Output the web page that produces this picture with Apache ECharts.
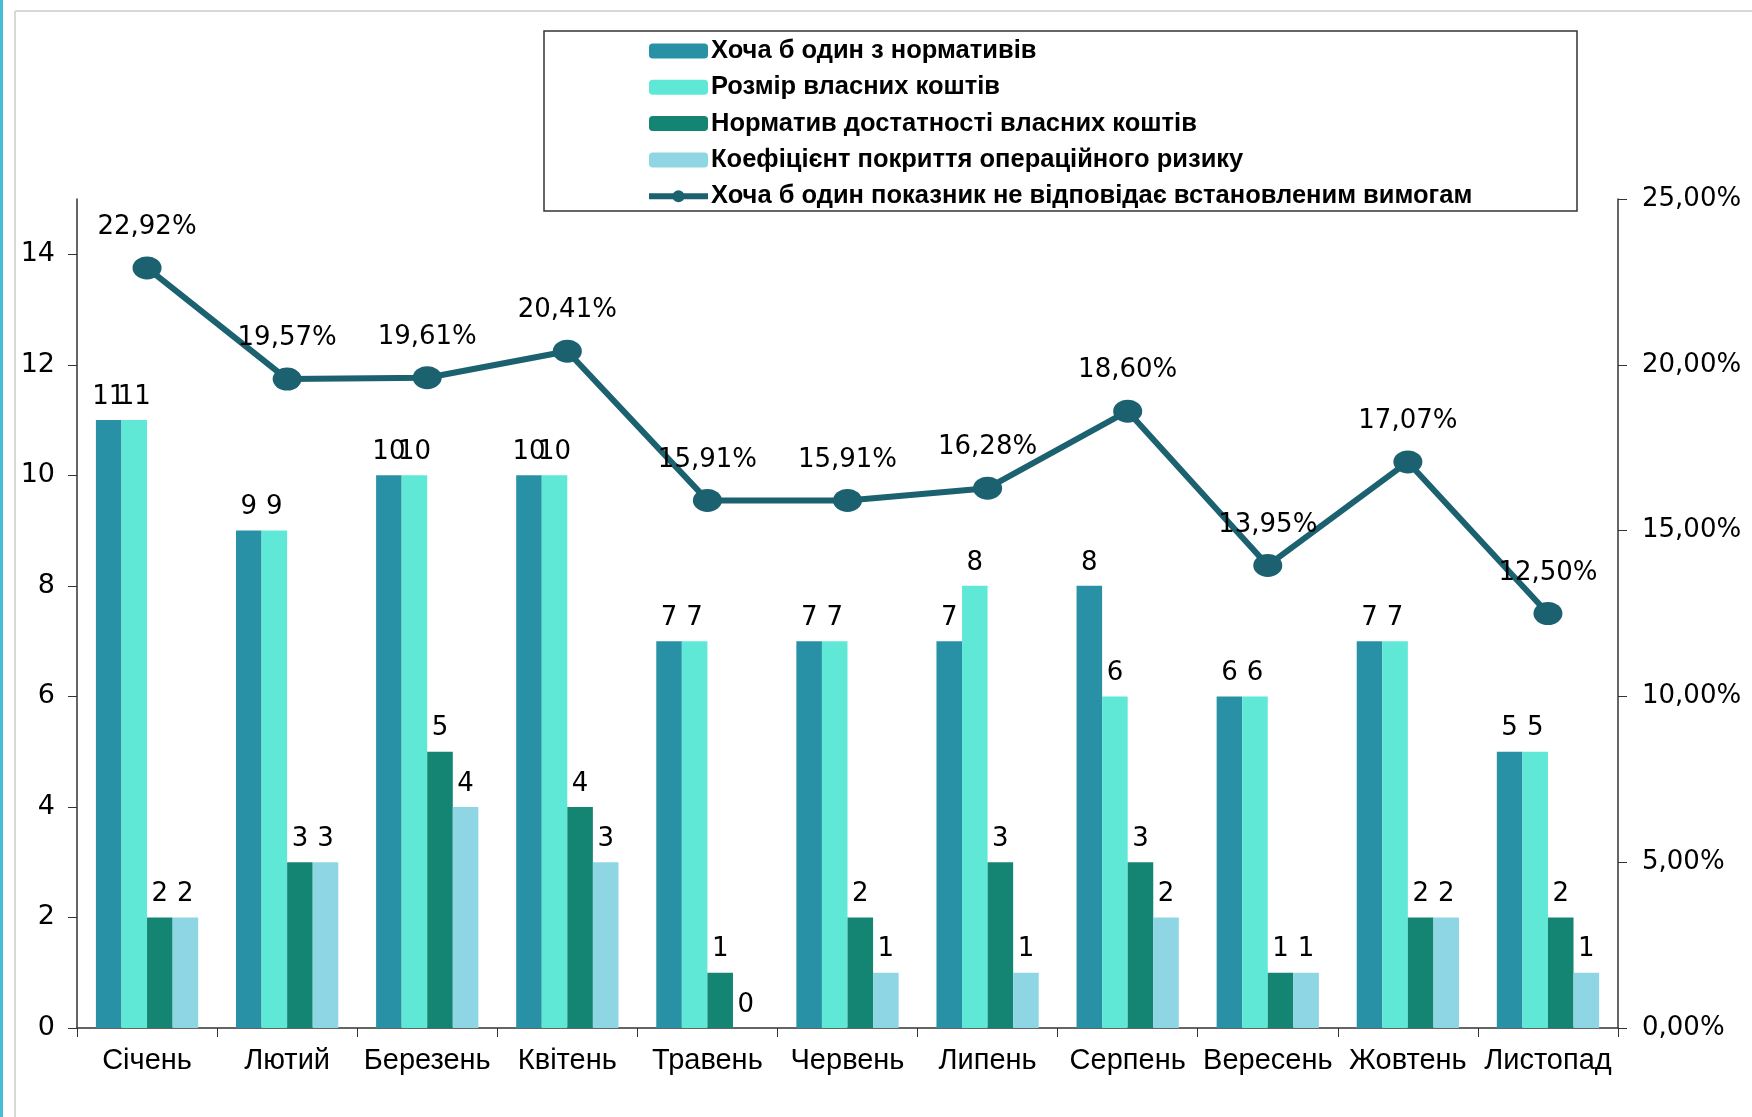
<!DOCTYPE html>
<html>
<head>
<meta charset="utf-8">
<script src="https://cdn.jsdelivr.net/npm/echarts@6/dist/echarts.min.js"></script>
<style>
html, body { margin: 0; padding: 0; background: #fff; }
#chart { width: 1752px; height: 1117px; }
</style>
</head>
<body>
<div id="chart"></div>
<script>
// місяці
var months = ['Січень', 'Лютий', 'Березень', 'Квітень', 'Травень', 'Червень', 'Липень', 'Серпень', 'Вересень', 'Жовтень', 'Листопад'];

var seriesNames = [
  'Хоча б один з нормативів',
  'Розмір власних коштів',
  'Норматив достатності власних коштів',
  'Коефіцієнт покриття операційного ризику',
  'Хоча б один показник не відповідає встановленим вимогам'
];

var anyNorm = [11, 9, 10, 10, 7, 7, 7, 8, 6, 7, 5];
var ownFunds = [11, 9, 10, 10, 7, 7, 8, 6, 6, 7, 5];
var adequacy = [2, 3, 5, 4, 1, 2, 3, 3, 1, 2, 2];
var opRisk = [2, 3, 4, 3, 0, 1, 1, 2, 1, 2, 1];
var sharePct = [22.92, 19.57, 19.61, 20.41, 15.91, 15.91, 16.28, 18.60, 13.95, 17.07, 12.50];

var leftTicks = [0, 2, 4, 6, 8, 10, 12, 14];

var colors = ['#2891a6', '#60e8d7', '#158573', '#8fd6e4', '#1c6170'];

var numFont = 'DejaVu Sans';
var txtFont = 'Liberation Sans';

function pct(v) {
  return v.toFixed(2).replace('.', ',') + '%';
}

function barSeries(idx, data) {
  return {
    name: seriesNames[idx],
    type: 'bar',
    data: data,
    barGap: '0%',
    barCategoryGap: '27%',
    itemStyle: { color: colors[idx] },
    label: {
      show: true,
      position: 'top',
      distance: 10,
      color: '#000',
      fontFamily: numFont,
      fontSize: 26
    }
  };
}

var chart = echarts.init(document.getElementById('chart'));

var legendData = seriesNames.slice(0, 4).map(function (n) { return { name: n }; });
legendData.push({ name: seriesNames[4], lineStyle: { width: 6 } });

var option = {
  backgroundColor: '#fff',
  animation: false,
  color: colors,
  grid: { left: 77, right: 134, top: 199, bottom: 89, containLabel: false },
  legend: {
    orient: 'vertical',
    left: 641,
    top: 33,
    itemWidth: 59,
    itemHeight: 15,
    itemGap: 10.3,
    data: legendData,
    textStyle: { fontFamily: txtFont, fontSize: 25.5, fontWeight: 'bold', color: '#000', padding: [0, 0, 0, -2] }
  },
  graphic: [
    { type: 'rect', left: 0, top: 0, shape: { width: 3, height: 1117 }, style: { fill: '#45bcd8' } },
    { type: 'line', shape: { x1: 15, y1: 11, x2: 1752, y2: 11 }, style: { stroke: '#d9d9d9', lineWidth: 2 } },
    { type: 'line', shape: { x1: 15, y1: 11, x2: 15, y2: 1117 }, style: { stroke: '#d9d9d9', lineWidth: 2 } },
    { type: 'rect', z: -1, shape: { x: 544, y: 31, width: 1033, height: 180 }, style: { fill: 'none', stroke: '#333', lineWidth: 1.5 } }
  ],
  xAxis: {
    type: 'category',
    data: months,
    axisLine: { lineStyle: { color: '#333', width: 1.5 } },
    axisTick: { show: true, length: 9, lineStyle: { color: '#333' } },
    axisLabel: { color: '#000', fontFamily: txtFont, fontSize: 29, margin: 18, interval: 0 }
  },
  yAxis: [
    {
      type: 'value',
      min: 0,
      max: 15,
      interval: 2,
      splitLine: { show: false },
      axisLine: { show: true, lineStyle: { color: '#333', width: 1.5 } },
      axisTick: { show: true, length: 9, customValues: leftTicks, lineStyle: { color: '#333' } },
      axisLabel: { color: '#000', fontFamily: numFont, fontSize: 27, margin: 22, customValues: leftTicks }
    },
    {
      type: 'value',
      min: 0,
      max: 25,
      interval: 5,
      position: 'right',
      splitLine: { show: false },
      axisLine: { show: true, lineStyle: { color: '#333', width: 1.5 } },
      axisTick: { show: true, length: 9, lineStyle: { color: '#333' } },
      axisLabel: { color: '#000', fontFamily: numFont, fontSize: 26, margin: 24, formatter: function (v) { return pct(v); } }
    }
  ],
  series: [
    barSeries(0, anyNorm),
    barSeries(1, ownFunds),
    barSeries(2, adequacy),
    barSeries(3, opRisk),
    {
      name: seriesNames[4],
      type: 'line',
      yAxisIndex: 1,
      data: sharePct,
      symbol: 'circle',
      symbolSize: [29, 23],
      lineStyle: { color: colors[4], width: 6 },
      itemStyle: { color: colors[4] },
      z: 5,
      label: {
        show: true,
        position: 'top',
        distance: 16,
        color: '#000',
        fontFamily: numFont,
        fontSize: 26,
        formatter: function (p) { return pct(p.value); }
      }
    }
  ]
};

chart.setOption(option);
</script>
</body>
</html>
